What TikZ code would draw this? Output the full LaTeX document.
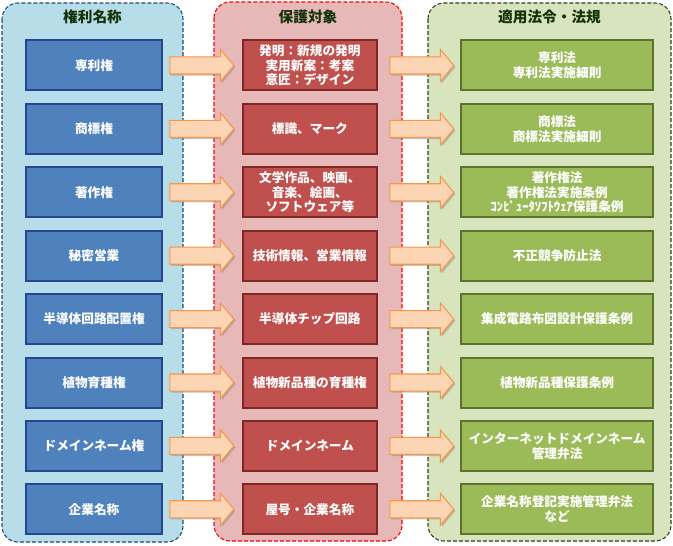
\documentclass[tikz,border=0pt]{standalone}
\usepackage{fontspec}
\usepackage{tikz}
\usetikzlibrary{positioning, shapes.arrows, shadows}
\newfontfamily\jpfont{Noto Sans CJK JP}
\definecolor{panelblue}{RGB}{183,222,232}
\definecolor{panelpink}{RGB}{230,185,184}
\definecolor{panelgreen}{RGB}{215,228,189}
\definecolor{edgeblue}{RGB}{31,73,125}
\definecolor{edgegreen}{RGB}{40,70,20}
\definecolor{boxblue}{RGB}{79,129,189}
\definecolor{boxblueedge}{RGB}{37,70,145}
\definecolor{boxred}{RGB}{192,80,77}
\definecolor{boxrededge}{RGB}{128,40,38}
\definecolor{boxgreen}{RGB}{155,187,89}
\definecolor{boxgreenedge}{RGB}{90,115,45}
\definecolor{arrowpeach}{RGB}{252,213,181}
\definecolor{arroworange}{RGB}{247,150,70}
\definecolor{titlegreen}{RGB}{20,50,10}

\begin{document}
\begin{tikzpicture}[
			x=0.75pt, y=-0.75pt,
			node distance=8.55pt,
			box/.style={rectangle, draw, line width=1.5pt, minimum height=37.5pt, inner sep=2pt, align=center, text=white, font=\jpfont\bfseries\fontsize{9.5}{11}\selectfont},
			namebox/.style={box, fill=boxblue, draw=boxblueedge, minimum width=102.5pt},
			objbox/.style={box, fill=boxred, draw=boxrededge, minimum width=101pt},
			lawbox/.style={box, fill=boxgreen, draw=boxgreenedge, minimum width=143.5pt},
			bigarrow/.style={single arrow, draw=arroworange, fill=arrowpeach, line width=0.8pt, minimum height=48pt, inner xsep=0pt, inner ysep=6pt, single arrow head extend=5.6pt, single arrow tip angle=100, drop shadow={shadow xshift=1.2pt, shadow yshift=-1.2pt, fill=black!45, opacity=0.5}},
			panel/.style={line width=0.8pt, rounded corners=12pt, dash pattern=on 3pt off 1.5pt},
			title/.style={font=\jpfont\bfseries\fontsize{11}{12}\selectfont, text=titlegreen}
		]
		\useasboundingbox (0,0) rectangle (673,545);
		
		% Panels
		\draw[panel, fill=panelblue, draw=edgeblue] (2,3) rectangle (183,542);
		\draw[panel, fill=panelpink, draw=red] (214,2) rectangle (402,541);
		\draw[panel, fill=panelgreen, draw=edgegreen] (428,3) rectangle (671,541);
		\node[title] (t1) at (92.5,17) {権利名称};
		\node[title] (t2) at (308,17) {保護対象};
		\node[title] (t3) at (549.5,17) {適用法令・法規};
		
		% Rights
		\node[namebox] (kenri1) at (94,65.5) {専利権};
		\node[namebox, below=of kenri1] (kenri2) {商標権};
		\node[namebox, below=of kenri2] (kenri3) {著作権};
		\node[namebox, below=of kenri3] (kenri4) {秘密営業};
		\node[namebox, below=of kenri4] (kenri5) {半導体回路配置権};
		\node[namebox, below=of kenri5] (kenri6) {植物育種権};
		\node[namebox, below=of kenri6] (kenri7) {ドメインネーム権};
		\node[namebox, below=of kenri7] (kenri8) {企業名称};
		
		% Arrows to objects
		\node[bigarrow, right=4.5pt of kenri1] (ya1) {};
		\node[bigarrow, right=4.5pt of kenri2] (ya2) {};
		\node[bigarrow, right=4.5pt of kenri3] (ya3) {};
		\node[bigarrow, right=4.5pt of kenri4] (ya4) {};
		\node[bigarrow, right=4.5pt of kenri5] (ya5) {};
		\node[bigarrow, right=4.5pt of kenri6] (ya6) {};
		\node[bigarrow, right=4.5pt of kenri7] (ya7) {};
		\node[bigarrow, right=4.5pt of kenri8] (ya8) {};
		
		% Objects
		\node[objbox, right=5.25pt of ya1] (taisho1) {発明：新規の発明\\実用新案：考案\\意匠：デザイン};
		\node[objbox, below=of taisho1] (taisho2) {標識、マーク};
		\node[objbox, below=of taisho2] (taisho3) {文学作品、映画、\\音楽、絵画、\\ソフトウェア等};
		\node[objbox, below=of taisho3] (taisho4) {技術情報、営業情報};
		\node[objbox, below=of taisho4] (taisho5) {半導体チップ回路};
		\node[objbox, below=of taisho5] (taisho6) {植物新品種の育種権};
		\node[objbox, below=of taisho6] (taisho7) {ドメインネーム};
		\node[objbox, below=of taisho7] (taisho8) {屋号・企業名称};
		
		% Arrows to laws
		\node[bigarrow, right=8.25pt of taisho1] (yb1) {};
		\node[bigarrow, right=8.25pt of taisho2] (yb2) {};
		\node[bigarrow, right=8.25pt of taisho3] (yb3) {};
		\node[bigarrow, right=8.25pt of taisho4] (yb4) {};
		\node[bigarrow, right=8.25pt of taisho5] (yb5) {};
		\node[bigarrow, right=8.25pt of taisho6] (yb6) {};
		\node[bigarrow, right=8.25pt of taisho7] (yb7) {};
		\node[bigarrow, right=8.25pt of taisho8] (yb8) {};
		
		% Laws
		\node[lawbox, right=4.5pt of yb1] (hoki1) {専利法\\専利法実施細則};
		\node[lawbox, below=of hoki1] (hoki2) {商標法\\商標法実施細則};
		\node[lawbox, below=of hoki2] (hoki3) {著作権法\\著作権法実施条例\\ｺﾝﾋﾟｭｰﾀｿﾌﾄｳｪｱ保護条例};
		\node[lawbox, below=of hoki3] (hoki4) {不正競争防止法};
		\node[lawbox, below=of hoki4] (hoki5) {集成電路布図設計保護条例};
		\node[lawbox, below=of hoki5] (hoki6) {植物新品種保護条例};
		\node[lawbox, below=of hoki6] (hoki7) {インターネットドメインネーム\\管理弁法};
		\node[lawbox, below=of hoki7] (hoki8) {企業名称登記実施管理弁法\\など};
		\end{tikzpicture}
\end{document}
